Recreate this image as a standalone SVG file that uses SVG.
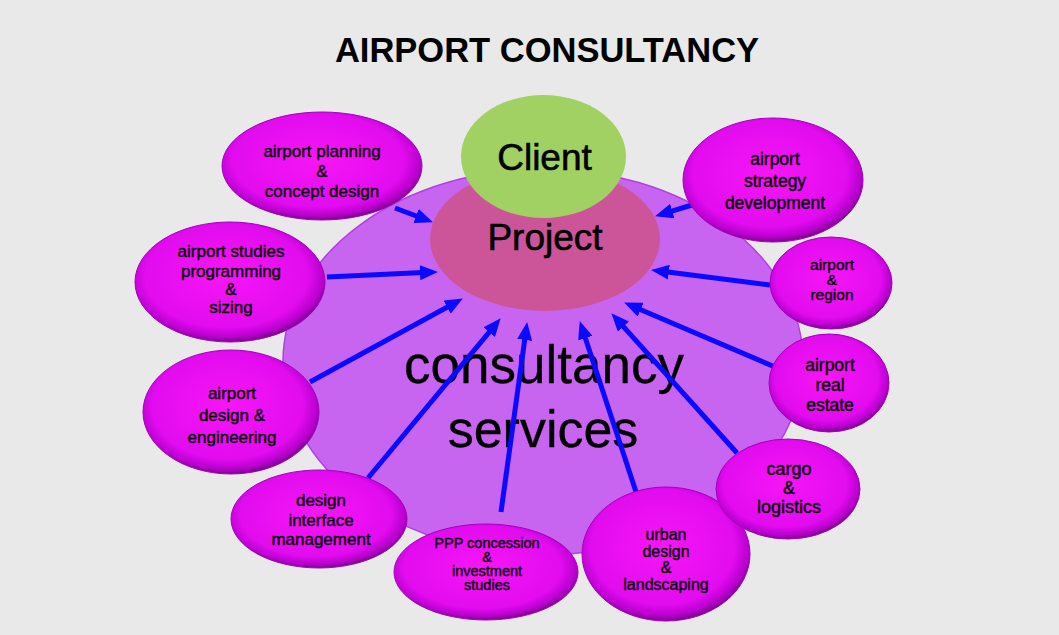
<svg xmlns="http://www.w3.org/2000/svg" width="1059" height="635" viewBox="0 0 1059 635">
<defs>
<radialGradient id="sat" cx="48%" cy="45%" r="55%">
<stop offset="0" stop-color="#f616f6"/>
<stop offset="0.78" stop-color="#e20cef"/>
<stop offset="0.92" stop-color="#bb00d0"/>
<stop offset="1" stop-color="#7c008e"/>
</radialGradient>
<marker id="ah" markerUnits="userSpaceOnUse" markerWidth="19" markerHeight="15" refX="3" refY="7.5" orient="auto">
<path d="M0,0 L18,7.5 L0,15 z" fill="#0a0aff"/>
</marker>
<style>
text{font-family:"Liberation Sans",Arial,sans-serif;fill:#000;text-anchor:middle;stroke:#000;stroke-width:0.35}
.sat{fill:url(#sat);stroke:#a400bc;stroke-width:1}
.st{font-size:17px}
.conn line{stroke:#0a0aff;stroke-width:5;marker-end:url(#ah)}
</style>
</defs>
<rect width="1059" height="635" fill="#e9e9e9"/>
<g id="title"><text x="547" y="62" style="font-size:34.5px;font-weight:bold;stroke-width:0">AIRPORT CONSULTANCY</text></g>
<g id="services">
<ellipse cx="543" cy="362" rx="260" ry="193" fill="#c865f0" stroke="#b040e0" stroke-width="1.5"/>
<text x="544" y="383" style="font-size:53px;stroke-width:0.3">consultancy</text>
<text x="543" y="447" style="font-size:52px;stroke-width:0.3">services</text>
</g>
<g id="project">
<ellipse cx="545" cy="239" rx="115" ry="72" fill="#cc5599"/>
<text x="545" y="250" style="font-size:37px;stroke-width:0.6">Project</text>
</g>
<g id="client">
<ellipse cx="543.5" cy="156.5" rx="82.5" ry="61.5" fill="#a0d162"/>
<text x="544.5" y="170" style="font-size:37px;stroke-width:0.6">Client</text>
</g>
<g class="conn" id="connectors">
<line x1="395" y1="208" x2="418.9" y2="217"/>
<line x1="327" y1="277" x2="423" y2="272.6"/>
<line x1="310" y1="382" x2="449.7" y2="305.7"/>
<line x1="368" y1="478" x2="491.1" y2="329.8"/>
<line x1="501" y1="512" x2="525.1" y2="336.9"/>
<line x1="642" y1="510" x2="584.4" y2="335.3"/>
<line x1="737" y1="453" x2="621.4" y2="324.4"/>
<line x1="775" y1="367" x2="637.9" y2="308.5"/>
<line x1="770" y1="285" x2="665.9" y2="271.8"/>
<line x1="692" y1="205" x2="669.4" y2="211.9"/>
</g>
<g id="planning">
<ellipse class="sat" cx="322" cy="166" rx="100" ry="54"/>
<text class="st" x="322" y="157">airport planning</text>
<text class="st" x="322" y="177">&amp;</text>
<text class="st" x="322" y="197">concept design</text>
</g>
<g id="studies">
<ellipse class="sat" cx="230" cy="282" rx="95" ry="60"/>
<text class="st" x="231" y="257">airport studies</text>
<text class="st" x="231" y="277">programming</text>
<text class="st" x="231" y="295">&amp;</text>
<text class="st" x="231" y="313">sizing</text>
</g>
<g id="engineering">
<ellipse class="sat" cx="231" cy="412" rx="88" ry="62"/>
<text class="st" x="232" y="399">airport</text>
<text class="st" x="232" y="421">design &amp;</text>
<text class="st" x="232" y="443">engineering</text>
</g>
<g id="interface">
<ellipse class="sat" cx="319" cy="519" rx="88" ry="49"/>
<text class="st" x="321" y="506">design</text>
<text class="st" x="321" y="526">interface</text>
<text class="st" x="321" y="545">management</text>
</g>
<g id="ppp">
<ellipse class="sat" cx="486" cy="572" rx="92" ry="48"/>
<text x="487" y="548" style="font-size:14.5px">PPP concession</text>
<text x="487" y="562" style="font-size:14.5px">&amp;</text>
<text x="487" y="576" style="font-size:14.5px">investment</text>
<text x="487" y="590" style="font-size:14.5px">studies</text>
</g>
<g id="urban">
<ellipse class="sat" cx="666" cy="554" rx="84" ry="67"/>
<text x="666" y="540" style="font-size:16px">urban</text>
<text x="666" y="557" style="font-size:16px">design</text>
<text x="666" y="573" style="font-size:16px">&amp;</text>
<text x="666" y="590" style="font-size:16px">landscaping</text>
</g>
<g id="cargo">
<ellipse class="sat" cx="788" cy="489" rx="72" ry="50"/>
<text x="789" y="475" style="font-size:18px">cargo</text>
<text x="789" y="494" style="font-size:18px">&amp;</text>
<text x="789" y="513" style="font-size:18px">logistics</text>
</g>
<g id="realestate">
<ellipse class="sat" cx="829" cy="383" rx="60" ry="49"/>
<text x="830" y="371" style="font-size:17.5px">airport</text>
<text x="830" y="391" style="font-size:17.5px">real</text>
<text x="830" y="411" style="font-size:17.5px">estate</text>
</g>
<g id="region">
<ellipse class="sat" cx="831" cy="283" rx="61" ry="46"/>
<text x="832" y="270" style="font-size:15.5px">airport</text>
<text x="832" y="285" style="font-size:15.5px">&amp;</text>
<text x="832" y="300" style="font-size:15.5px">region</text>
</g>
<g id="strategy">
<ellipse class="sat" cx="773" cy="180" rx="90" ry="62"/>
<text x="775" y="165" style="font-size:17.5px">airport</text>
<text x="775" y="187" style="font-size:17.5px">strategy</text>
<text x="775" y="209" style="font-size:17.5px">development</text>
</g>
</svg>
